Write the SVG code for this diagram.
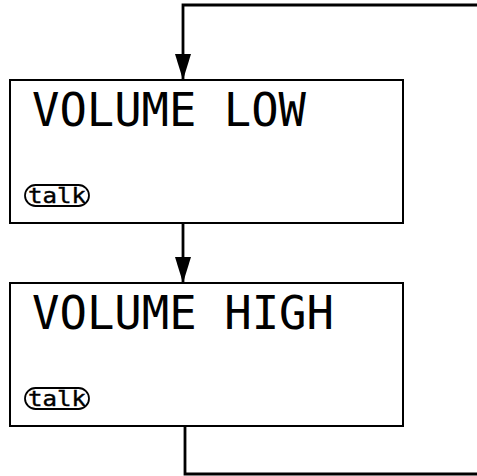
<svg xmlns="http://www.w3.org/2000/svg" width="477" height="476" viewBox="0 0 477 476">
<style>
.box{fill:#fff;stroke:#000;stroke-width:2}
.title{font-family:"DejaVu Sans Mono","Liberation Mono",monospace;font-size:46.5px;fill:#000}
.pill{fill:none;stroke:#000;stroke-width:1.8}
.key{font-family:"DejaVu Sans Mono","Liberation Mono",monospace;font-size:22px;fill:#000;stroke:#000;stroke-width:0.4}
.conn{fill:none;stroke:#000;stroke-width:2.8}
</style>
<defs>
<marker id="ah" markerUnits="userSpaceOnUse" markerWidth="26" markerHeight="16" refX="26" refY="8" orient="auto" viewBox="0 0 26 16">
<path d="M0,0 L26,8 L0,16 Z" fill="#000"/>
</marker>
</defs>
<rect width="477" height="476" fill="#fff"/>
<g id="connectors">
<path class="conn" d="M477,5 H183 V80" marker-end="url(#ah)"/>
<path class="conn" d="M183,224 V283" marker-end="url(#ah)"/>
<path class="conn" d="M185,426 V474 H477"/>
</g>
<g id="volume-low">
<rect class="box" x="10" y="80" width="393" height="143"/>
<text class="title" x="32" y="126" textLength="274" lengthAdjust="spacingAndGlyphs">VOLUME LOW</text>
<rect class="pill" x="25" y="185" width="64" height="21" rx="10.5"/>
<text class="key" x="28" y="203" textLength="58" lengthAdjust="spacingAndGlyphs">talk</text>
</g>
<g id="volume-high">
<rect class="box" x="10" y="283" width="393" height="143"/>
<text class="title" x="32" y="329" textLength="302" lengthAdjust="spacingAndGlyphs">VOLUME HIGH</text>
<rect class="pill" x="25" y="388" width="64" height="21" rx="10.5"/>
<text class="key" x="28" y="406" textLength="58" lengthAdjust="spacingAndGlyphs">talk</text>
</g>
</svg>
